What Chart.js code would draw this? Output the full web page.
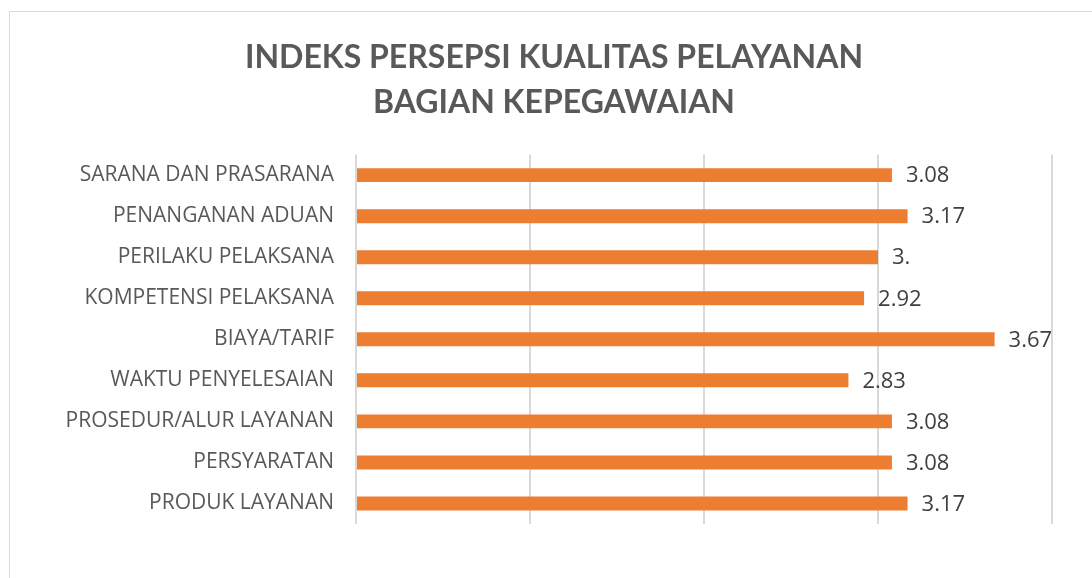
<!DOCTYPE html>
<html>
<head>
<meta charset="utf-8">
<script src="https://cdn.jsdelivr.net/npm/chart.js@4/dist/chart.umd.min.js"></script>
<style>
  html, body { margin: 0; padding: 0; background: #fff; width: 1092px; height: 578px; overflow: hidden; }
  #frame { position: absolute; left: 9px; top: 11px; width: 1100px; height: 600px; border-top: 1.5px solid #d9d9d9; border-left: 1.5px solid #d9d9d9; }
  #wrap { position: absolute; left: 9px; top: 11px; width: 1090px; height: 567px; }
</style>
</head>
<body>
<div id="frame"></div>
<div id="wrap"><canvas id="c"></canvas></div>
<script>
const categories = [
  "SARANA DAN PRASARANA",
  "PENANGANAN ADUAN",
  "PERILAKU PELAKSANA",
  "KOMPETENSI PELAKSANA",
  "BIAYA/TARIF",
  "WAKTU PENYELESAIAN",
  "PROSEDUR/ALUR LAYANAN",
  "PERSYARATAN",
  "PRODUK LAYANAN"
];
const values = [3.08, 3.17, 3.00, 2.92, 3.67, 2.83, 3.08, 3.08, 3.17];
const valueLabels = ["3.08", "3.17", "3.", "2.92", "3.67", "2.83", "3.08", "3.08", "3.17"];
const titleLines = ["INDEKS PERSEPSI KUALITAS PELAYANAN", "BAGIAN KEPEGAWAIAN"];

const TITLE_FONT = "Lato, 'Open Sans', sans-serif";
const FONT = "'Open Sans', Lato, sans-serif";

const valueLabelPlugin = {
  id: 'valueLabels',
  afterDatasetsDraw(chart) {
    const ctx = chart.ctx;
    const meta = chart.getDatasetMeta(0);
    ctx.save();
    ctx.font = "22px " + FONT;
    ctx.fillStyle = "#404040";
    ctx.textAlign = "left";
    ctx.textBaseline = "middle";
    meta.data.forEach((bar, i) => {
      ctx.fillText(valueLabels[i], bar.x + 14, bar.y + 1);
    });
    ctx.restore();
  }
};

new Chart(document.getElementById('c'), {
  type: 'bar',
  data: {
    labels: categories,
    datasets: [{
      data: values,
      backgroundColor: '#ED7D31',
      borderWidth: 0,
      barPercentage: 0.34,
      categoryPercentage: 1.0
    }]
  },
  options: {
    indexAxis: 'y',
    responsive: true,
    maintainAspectRatio: false,
    animation: false,
    devicePixelRatio: 1,
    layout: { padding: { left: 47, right: 47, top: 24, bottom: 54 } },
    plugins: {
      legend: { display: false },
      tooltip: { enabled: false },
      title: {
        display: true,
        text: titleLines,
        color: '#595959',
        font: { family: TITLE_FONT, size: 32, weight: 'bold', lineHeight: 1.4 },
        padding: { top: 0, bottom: 30 }
      }
    },
    scales: {
      x: {
        min: 0, max: 4,
        ticks: { display: false, stepSize: 1 },
        grid: { color: '#d9d9d9', lineWidth: 2, drawTicks: false },
        border: { display: false },
        afterFit(scale) { scale.height = 0; }
      },
      y: {
        grid: { display: false, drawTicks: false },
        border: { display: false },
        ticks: { color: '#595959', font: { family: FONT, size: 21 }, padding: 22 },
        afterFit(scale) { scale.width = 300; }
      }
    }
  },
  plugins: [valueLabelPlugin]
});
</script>
</body>
</html>
